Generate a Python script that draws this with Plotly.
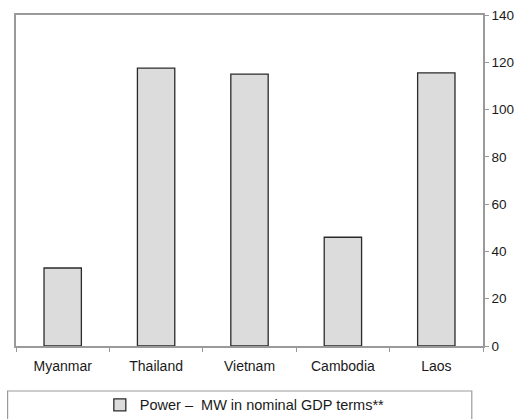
import plotly.graph_objects as go

categories = ["Myanmar", "Thailand", "Vietnam", "Cambodia", "Laos"]
values = [33, 117.5, 115, 46, 115.5]
series_name = "Power –  MW in nominal GDP terms**"
y_ticks = [0, 20, 40, 60, 80, 100, 120, 140]

fig = go.Figure()
fig.add_trace(go.Bar(
    x=categories, y=values, name=series_name,
    marker=dict(color="#DCDCDC", line=dict(color="#2a2a2a", width=1.3)),
    showlegend=True,
))

axis_col = "#9A9A9A"
fig.update_layout(
    width=529, height=419,
    margin=dict(l=16, r=46, t=15, b=73, autoexpand=False),
    paper_bgcolor="white", plot_bgcolor="white",
    font=dict(family="Liberation Sans, Arial, sans-serif", size=13.5, color="#1a1a1a"),
    bargap=0.6,
    showlegend=True,
    legend=dict(x=0.49, y=-0.178, xanchor="center", yanchor="middle",
                orientation="h", font=dict(size=14.5, color="#1a1a1a"),
                bgcolor="rgba(0,0,0,0)", itemwidth=30),
    xaxis=dict(showline=True, linecolor=axis_col, linewidth=1.5, mirror=True,
               ticks="outside", ticklen=4, tickcolor=axis_col, tickson="boundaries",
               ticklabelstandoff=6, tickfont=dict(size=14),
               showgrid=False, zeroline=False),
    yaxis=dict(side="right", range=[0, 140], tickvals=y_ticks,
               showline=True, linecolor=axis_col, linewidth=1.5, mirror=True,
               ticks="outside", ticklen=4, tickcolor=axis_col,
               showgrid=False, zeroline=False),
    shapes=[dict(type="rect", xref="paper", yref="paper",
                 x0=-0.018, x1=0.976, y0=-0.136, y1=-0.30,
                 line=dict(color=axis_col, width=1.2), fillcolor="rgba(0,0,0,0)")],
)

fig.write_html("out.html")
